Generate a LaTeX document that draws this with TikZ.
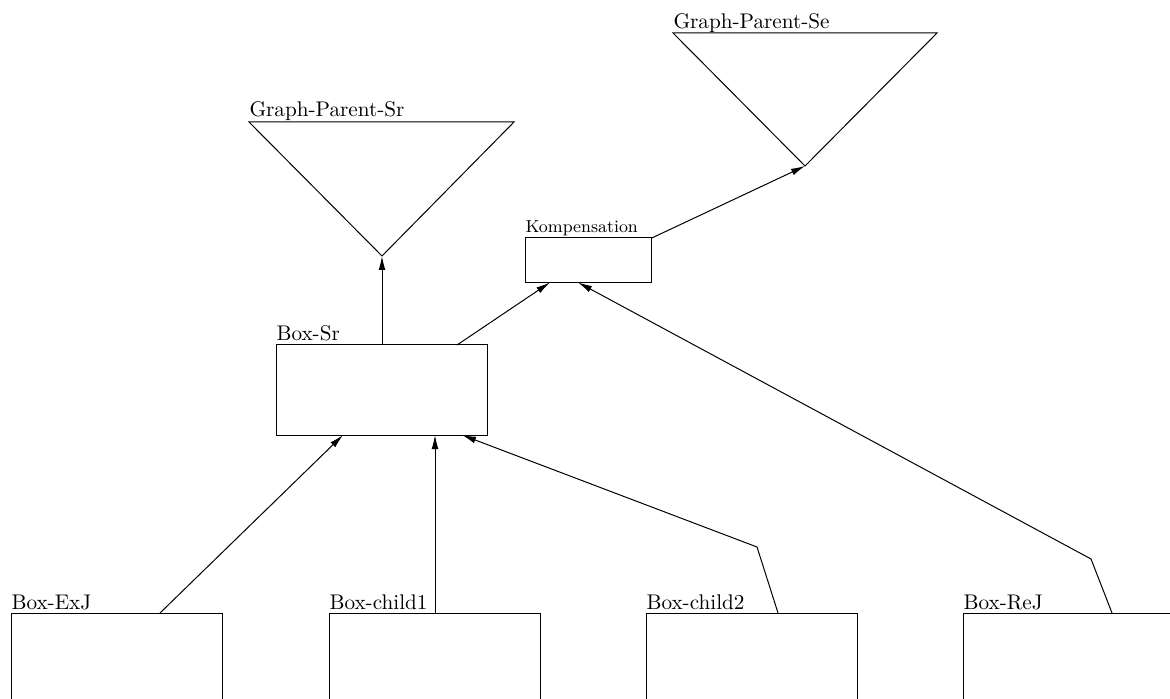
\documentclass[tikz,border=0pt]{standalone}
\usetikzlibrary{arrows.meta}
\begin{document}
\begin{tikzpicture}[x=0.5pt,y=-0.5pt,
  line width=0.5pt,
  boxnode/.style={draw,rectangle,inner sep=0pt,outer sep=0pt,anchor=north west},
  bigbox/.style={boxnode,minimum width=105.5pt,minimum height=45pt},
  leafbox/.style={boxnode,minimum width=105.5pt,minimum height=75pt},
  komp/.style={boxnode,minimum width=63.4pt,minimum height=22.2pt},
  lbl/.style={anchor=base west,inner sep=0pt,font=\fontsize{10.6}{12}\selectfont},
  smalllbl/.style={anchor=base west,inner sep=0pt,font=\fontsize{8.7}{10}\selectfont},
  arr/.style={-{Latex[length=7pt,width=3.4pt]}}]
\useasboundingbox (0,0) rectangle (1170,699);
\clip (0,0) rectangle (1170,699);

% parent graphs (inverted triangles)
\coordinate (srL) at (249,122);
\coordinate (srR) at (514,122);
\coordinate (srV) at (382,256);
\draw (srL) -- (srR) -- (srV) -- cycle;
\node[lbl] (lsrgp) at (249,117) {Graph-Parent-Sr};

\coordinate (seL) at (673,33);
\coordinate (seR) at (937,33);
\coordinate (seV) at (805,166);
\draw (seL) -- (seR) -- (seV) -- cycle;
\node[lbl] (lsegp) at (673,29) {Graph-Parent-Se};

% compensation box
\node[komp] (komp) at (525,238) {};
\node[smalllbl] (lkomp) at (525,233) {Kompensation};

% Box-Sr
\node[bigbox] (sr) at (276,345) {};
\node[lbl] (lsr) at (276,341) {Box-Sr};

% leaf boxes
\node[leafbox] (exj) at (11,613) {};
\node[lbl] (lexj) at (11,609) {Box-ExJ};
\node[leafbox] (c1) at (329,613) {};
\node[lbl] (lc1) at (329,609) {Box-child1};
\node[leafbox] (c2) at (646,613) {};
\node[lbl] (lc2) at (646,609) {Box-child2};
\node[leafbox] (rej) at (963,613) {};
\node[lbl] (lrej) at (963,609) {Box-ReJ};

% bend points
\coordinate (b2) at (757,547);
\coordinate (br) at (1091,559);

% connectors
\draw[arr] (382,0 |- sr.north) -- (srV);
\draw[arr] (457,0 |- sr.north) -- (550,0 |- komp.south);
\draw[arr] (komp.north east) -- (seV);
\draw[arr] (1112,0 |- rej.north) -- (br) -- (578,0 |- komp.south);
\draw[arr] (778,0 |- c2.north) -- (b2) -- (462,0 |- sr.south);
\draw[arr] (435,0 |- c1.north) -- (435,0 |- sr.south);
\draw[arr] (160,0 |- exj.north) -- (343,0 |- sr.south);
\end{tikzpicture}
\end{document}
